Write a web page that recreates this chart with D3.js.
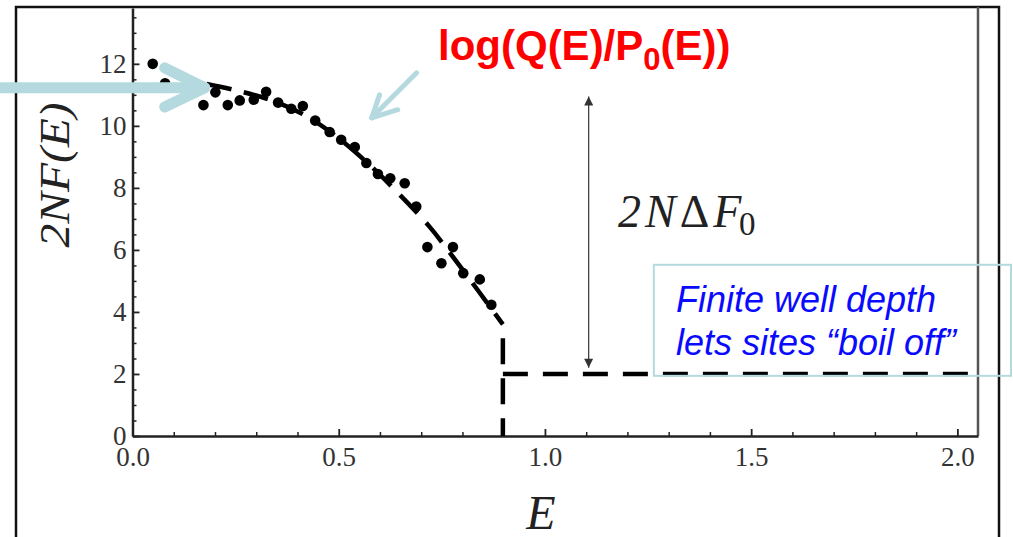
<!DOCTYPE html>
<html>
<head>
<meta charset="utf-8">
<script src="https://cdn.jsdelivr.net/npm/d3@7"></script>
<style>
  html, body { margin: 0; padding: 0; background: #fff; }
  svg { display: block; }
</style>
</head>
<body>
<div id="chart"></div>
<script>
// free energy vs E: data points, fitted dashed curve, well floor
const xTicks = [0, 0.5, 1.0, 1.5, 2.0];
const yTicks = [0, 2, 4, 6, 8, 10, 12];

// measured points (E, 2NF)
const dotE = [0.049, 0.079, 0.172, 0.201, 0.231, 0.26, 0.294, 0.324, 0.353, 0.385, 0.413, 0.443, 0.478, 0.506, 0.539, 0.567, 0.595, 0.625, 0.66, 0.688, 0.715, 0.749, 0.777, 0.802, 0.842, 0.87];
const dotF = [12.0, 11.37, 10.67, 11.08, 10.67, 10.82, 10.84, 11.1, 10.75, 10.55, 10.64, 10.17, 9.8, 9.55, 9.32, 8.8, 8.45, 8.31, 8.15, 7.4, 6.09, 5.57, 6.09, 5.25, 5.05, 4.23];

// dashed fit curve
const curveE = [0.18, 0.25, 0.33, 0.41, 0.49, 0.57, 0.65, 0.72, 0.77, 0.84, 0.898];
const curveF = [11.35, 11.15, 10.85, 10.4, 9.7, 8.8, 7.75, 6.75, 5.9, 4.65, 3.6];

const wellEdge = 0.898;
const floorLevel = 2;
const xMax = 2.05, yMax = 13.8;

// annotation positions (data units)
const gapArrowE = 1.106, gapArrowTop = 10.95, gapArrowBottom = 2.2;
const boxE = [1.264, 2.13], boxF = [5.52, 1.94];
const boxLines = ['Finite well depth', 'lets sites \u201Cboil off\u201D'];

const width = 1013, height = 537;
const svg = d3.select('#chart').append('svg').attr('width', width).attr('height', height);
svg.append('rect').attr('width', width).attr('height', height).attr('fill', '#fff');

const x = d3.scaleLinear().domain([0, xMax]).range([132.5, 978]);
const y = d3.scaleLinear().domain([0, yMax]).range([436, 8]);

// outer slide frame
svg.append('path').attr('d', `M16,${height}V7H999V${height}`).attr('fill', 'none').attr('stroke', '#111').attr('stroke-width', 2.5);

// plot frame right side
svg.append('line').attr('x1', 978).attr('x2', 978).attr('y1', 7).attr('y2', 436).attr('stroke', '#555').attr('stroke-width', 2.5);

const serif = '"Liberation Serif", "DejaVu Serif", serif';

// minor ticks
const xMinor = d3.range(1, 21).map(i => i / 10).filter(v => Math.abs(v * 2 - Math.round(v * 2)) > 1e-6);
const yMinor = d3.range(1, 28).map(i => i / 2).filter(v => v % 2 !== 0);

svg.append('g').attr('transform', 'translate(0,436)')
  .call(d3.axisBottom(x).tickValues(xMinor).tickSize(-4).tickFormat(''))
  .call(g => g.select('.domain').remove())
  .call(g => g.selectAll('line').attr('stroke', '#222').attr('stroke-width', 1.5));
svg.append('g').attr('transform', `translate(${x(0)},0)`)
  .call(d3.axisLeft(y).tickValues(yMinor).tickSize(-4).tickFormat(''))
  .call(g => g.select('.domain').remove())
  .call(g => g.selectAll('line').attr('stroke', '#222').attr('stroke-width', 1.5));

// major axes
const xAxis = svg.append('g').attr('transform', 'translate(0,436)')
  .call(d3.axisBottom(x).tickValues(xTicks).tickSize(-7).tickPadding(11).tickSizeOuter(0).tickFormat(d3.format('.1f')));
xAxis.select('.domain').attr('stroke', '#222').attr('stroke-width', 2.5);
xAxis.selectAll('line').attr('stroke', '#222').attr('stroke-width', 1.8);
xAxis.selectAll('text').attr('font-family', serif).attr('font-size', 27).attr('fill', '#333');

const yAxis = svg.append('g').attr('transform', `translate(${x(0)},0)`)
  .call(d3.axisLeft(y).tickValues(yTicks).tickSize(-7).tickPadding(6).tickSizeOuter(0));
yAxis.select('.domain').attr('stroke', '#222').attr('stroke-width', 2.5);
yAxis.selectAll('line').attr('stroke', '#222').attr('stroke-width', 1.8);
yAxis.selectAll('text').attr('font-family', serif).attr('font-size', 27).attr('fill', '#333');

// axis titles
svg.append('text').attr('transform', 'translate(69,175) rotate(-90)')
  .attr('text-anchor', 'middle').attr('font-family', serif).attr('font-style', 'italic')
  .attr('font-size', 42).attr('fill', '#222').attr('textLength', 145).attr('lengthAdjust', 'spacingAndGlyphs')
  .text('2NF(E)');
svg.append('text').attr('x', 541).attr('y', 529).attr('text-anchor', 'middle')
  .attr('font-family', serif).attr('font-style', 'italic').attr('font-size', 48).attr('fill', '#222')
  .text('E');

// dashed curve, well wall and floor
const curvePts = curveE.map((e, i) => [e, curveF[i]]);
const line = d3.line().x(d => x(d[0])).y(d => y(d[1])).curve(d3.curveCatmullRom);
const dashStyle = p => p.attr('fill', 'none').attr('stroke', '#000').attr('stroke-width', 4.5);
svg.append('path').datum(curvePts).attr('d', line).call(dashStyle).attr('stroke-dasharray', '25,13');
svg.append('path').datum([[wellEdge, curveF[curveF.length - 1]], [wellEdge, 0]]).attr('d', d3.line().x(d => x(d[0])).y(d => y(d[1])))
  .call(dashStyle).attr('stroke-dasharray', '26,14').attr('stroke-dashoffset', 26);
svg.append('path').datum([[wellEdge, floorLevel], [xMax, floorLevel]]).attr('d', d3.line().x(d => x(d[0])).y(d => y(d[1])))
  .call(dashStyle).attr('stroke-dasharray', '25,15');

// dots
svg.append('g').selectAll('circle').data(dotE.map((e, i) => [e, dotF[i]])).join('circle')
  .attr('cx', d => x(d[0])).attr('cy', d => y(d[1])).attr('r', 5.3).attr('fill', '#000');

// gap double arrow
const defs = svg.append('defs');
defs.append('marker').attr('id', 'tri').attr('viewBox', '0 0 10 10').attr('refX', 10).attr('refY', 5)
  .attr('markerWidth', 12).attr('markerHeight', 9).attr('markerUnits', 'userSpaceOnUse').attr('orient', 'auto-start-reverse')
  .append('path').attr('d', 'M0,0L10,5L0,10Z').attr('fill', '#333');
svg.append('line').attr('x1', x(gapArrowE)).attr('x2', x(gapArrowE)).attr('y1', y(gapArrowTop)).attr('y2', y(gapArrowBottom))
  .attr('stroke', '#444').attr('stroke-width', 1.3)
  .attr('marker-start', 'url(#tri)').attr('marker-end', 'url(#tri)');

const gapLabel = svg.append('text').attr('x', 618).attr('y', 227).attr('font-family', serif).attr('font-size', 46).attr('fill', '#222');
gapLabel.append('tspan').attr('font-style', 'italic').attr('letter-spacing', 4).text('2N');
gapLabel.append('tspan').attr('letter-spacing', 4).text('\u0394');
gapLabel.append('tspan').attr('font-style', 'italic').text('F');
svg.append('text').attr('x', 739).attr('y', 235).attr('font-family', serif).attr('font-size', 33).attr('fill', '#222').text('0');

// red label
const red = svg.append('text').attr('x', 438).attr('y', 60).attr('font-family', '"Liberation Sans", Arial, sans-serif')
  .attr('font-weight', 'bold').attr('font-size', 42).attr('fill', '#ff0000');
red.append('tspan').text('log(Q(E)/P');
red.append('tspan').attr('font-size', 31).attr('dy', 10).text('0');
red.append('tspan').attr('dy', -10).text('(E))');

// light blue arrows
const teal = '#b4dadf';
const arrowPaths = [
  [[-0.33, 11.23], [0.175, 11.23]],
  [[0.078, 11.87], [0.175, 11.23], [0.078, 10.61]],
  [[0.689, 11.71], [0.58, 10.26]],
  [[0.599, 11.0], [0.58, 10.26], [0.643, 10.52]]
];
const arrowWidths = [11, 11, 5, 5];
arrowPaths.forEach((pts, i) => {
  svg.append('path').attr('d', d3.line().x(d => x(d[0])).y(d => y(d[1]))(pts))
    .attr('fill', 'none').attr('stroke', teal).attr('stroke-width', arrowWidths[i])
    .attr('stroke-linecap', 'round').attr('stroke-linejoin', 'round');
});

// text box
svg.append('rect').attr('x', x(boxE[0])).attr('y', y(boxF[0]))
  .attr('width', x(boxE[1]) - x(boxE[0])).attr('height', y(boxF[1]) - y(boxF[0]))
  .attr('fill', 'none').attr('stroke', teal).attr('stroke-width', 2);
svg.append('g').selectAll('text').data(boxLines).join('text')
  .attr('x', 676).attr('y', (d, i) => 312 + i * 43)
  .attr('font-family', '"Liberation Sans", Arial, sans-serif').attr('font-style', 'italic')
  .attr('font-size', 36).attr('fill', '#0a0aff').text(d => d);
</script>
</body>
</html>
